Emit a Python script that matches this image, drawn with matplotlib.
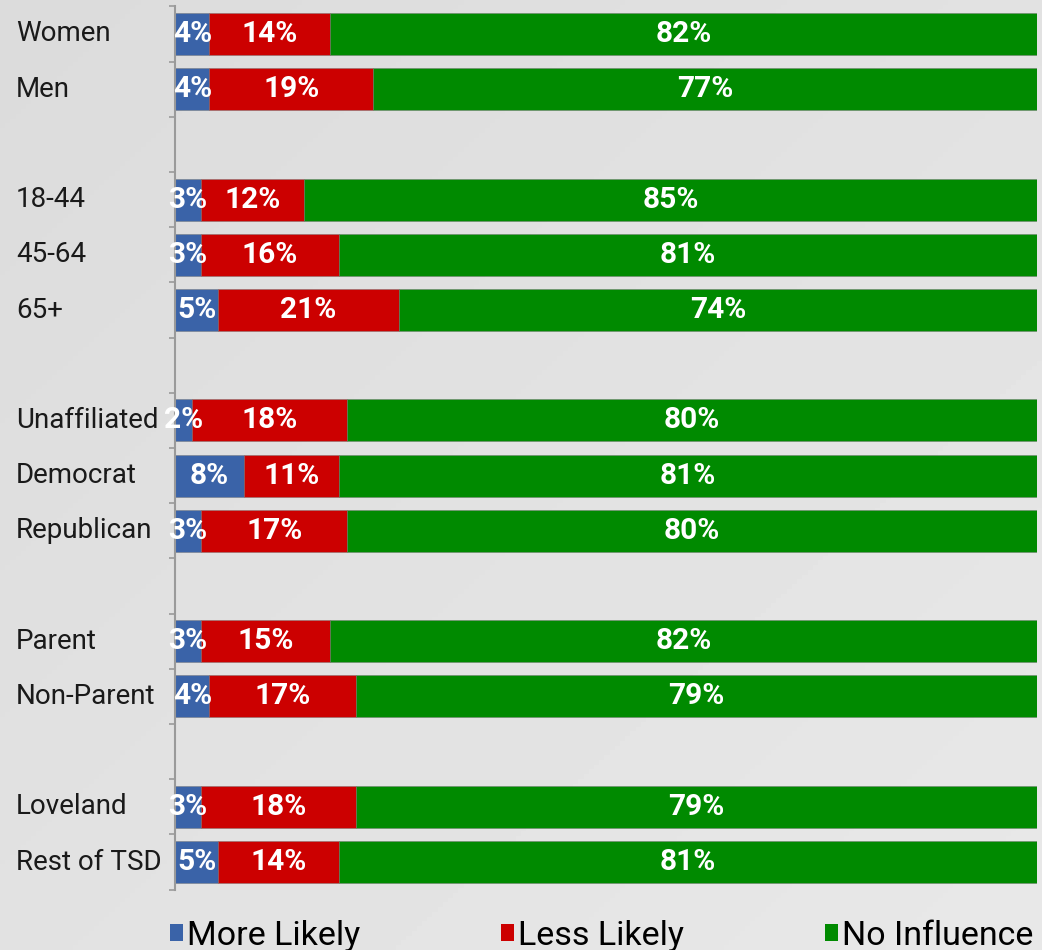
import matplotlib
matplotlib.use("Agg")
import matplotlib.pyplot as plt
import numpy as np
from matplotlib.patches import Patch

categories = ["Women", "Men", "", "18-44", "45-64", "65+", "",
              "Unaffiliated", "Democrat", "Republican", "",
              "Parent", "Non-Parent", "", "Loveland", "Rest of TSD"]
more_likely = [4, 4, 0, 3, 3, 5, 0, 2, 8, 3, 0, 3, 4, 0, 3, 5]
less_likely = [14, 19, 0, 12, 16, 21, 0, 18, 11, 17, 0, 15, 17, 0, 18, 14]
no_influence = [82, 77, 0, 85, 81, 74, 0, 80, 81, 80, 0, 82, 79, 0, 79, 81]
series_names = ["More Likely", "Less Likely", "No Influence"]

colors = ["#3A63A8", "#CC0000", "#008A00"]
plt.rcParams['font.family'] = ['Roboto', 'DejaVu Sans']

W, H = 1042, 950
fig = plt.figure(figsize=(W / 100, H / 100), dpi=100)

# background gradient
bg = fig.add_axes([0, 0, 1, 1], zorder=-10)
gx, gy = np.meshgrid(np.linspace(0, 1, 200), np.linspace(0, 1, 200))
grad = 0.86 + 0.05 * (0.5 * gx + 0.5 * gy)
bg.imshow(grad, cmap="gray", vmin=0, vmax=1, aspect="auto", extent=[0, 1, 0, 1], origin="upper")
bg.axis("off")

ax = fig.add_axes([175 / W, (H - 889.6) / H, (1037 - 175) / W, (889.6 - 6.4) / H])
ax.patch.set_alpha(0)

y = np.arange(len(categories))
h = 0.76
left1 = np.array(more_likely)
left2 = left1 + np.array(less_likely)
ec = (0.45, 0.45, 0.45, 0.5)
b1 = ax.barh(y, more_likely, height=h, color=colors[0], edgecolor=ec, linewidth=0.6, label=series_names[0])
b2 = ax.barh(y, less_likely, left=left1, height=h, color=colors[1], edgecolor=ec, linewidth=0.6, label=series_names[1])
b3 = ax.barh(y, no_influence, left=left2, height=h, color=colors[2], edgecolor=ec, linewidth=0.6, label=series_names[2])

for cont, vals in ((b1, more_likely), (b2, less_likely), (b3, no_influence)):
    labs = [f"{v}%" if v else "" for v in vals]
    ax.bar_label(cont, labels=labs, label_type="center", color="white",
                 fontsize=21.5, fontweight="bold")

ax.set_xlim(0, 100)
ax.set_ylim(len(categories) - 0.5, -0.5)
ax.set_xticks([])
ax.set_yticks(y)
ax.set_yticklabels([])
ax.tick_params(axis="y", which="major", length=0)
ax.set_yticks(np.arange(-0.5, len(categories), 1), minor=True)
ax.tick_params(axis="y", which="minor", length=4, width=1.2, color="#9A9A9A")
for s in ("top", "right", "bottom"):
    ax.spines[s].set_visible(False)
ax.spines["left"].set_color("#9A9A9A")
ax.spines["left"].set_linewidth(1.5)

for yi, cat in zip(y, categories):
    if cat:
        ax.text(-159 / 862 * 100, yi, cat, ha="left", va="center", fontsize=20, color="#1A1A1A")

handles = [Patch(facecolor=c, edgecolor="none") for c in colors]
fig.legend(handles, series_names, loc="lower left", bbox_to_anchor=(139 / W, -0.034), ncol=3,
           frameon=False, prop={'size': 24.5},
           handlelength=0.38, handleheight=0.38,
           handletextpad=0.12, columnspacing=4.15)

fig.savefig("out.png", dpi=100)
